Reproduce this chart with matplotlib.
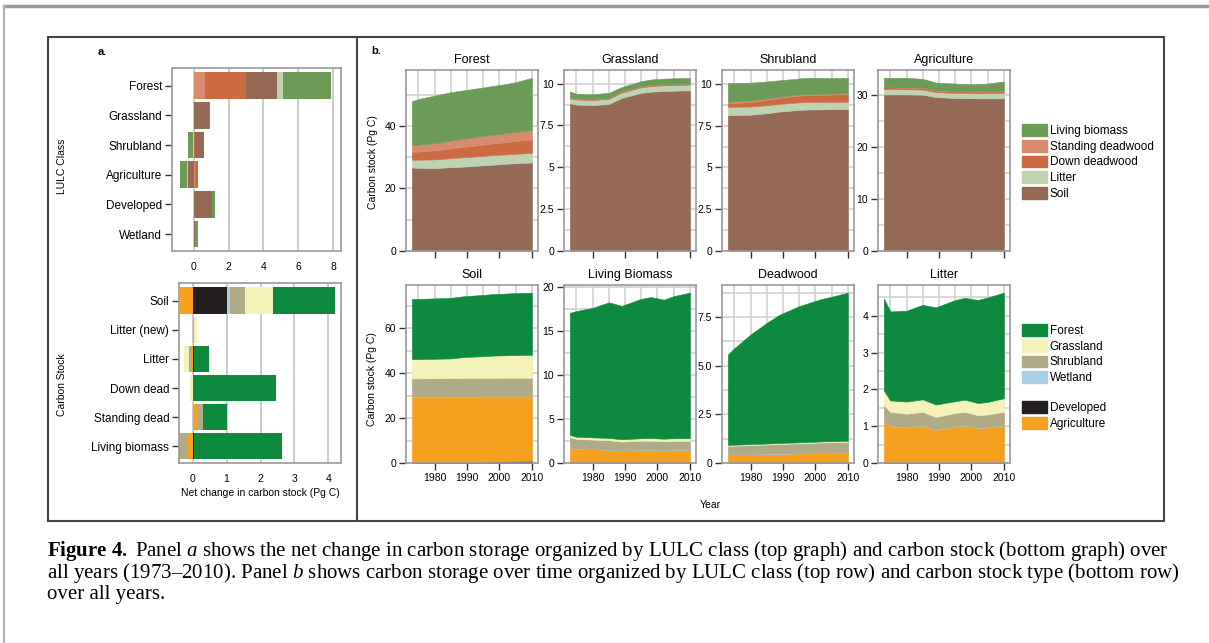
import matplotlib
matplotlib.use("Agg")
import matplotlib.pyplot as plt
from matplotlib.patches import Rectangle, Patch
from matplotlib.lines import Line2D
from matplotlib.ticker import MultipleLocator
import numpy as np

# ---------------- data ----------------
YEARS = [1973, 1975, 1980, 1985, 1989, 1995, 1998, 2002, 2005, 2010]

# panel b, top row: stock type by LULC class (Pg C)
FOREST_SOIL = [26.7, 26.6, 26.5, 26.8, 27.0, 27.4, 27.6, 27.9, 28.1, 28.3]
FOREST_LITTER = [2.5, 2.6, 2.8, 2.9, 3.0, 3.0, 3.1, 3.0, 3.0, 3.1]
FOREST_DOWN = [2.5, 2.6, 2.9, 3.1, 3.3, 3.6, 3.7, 3.9, 4.1, 4.3]
FOREST_STANDING = [2.1, 2.2, 2.3, 2.5, 2.6, 2.8, 2.8, 2.9, 2.9, 3.0]
FOREST_LIVING = [14.1, 14.6, 15.2, 15.5, 15.5, 15.5, 15.6, 15.7, 15.9, 16.7]

GRASS_SOIL = [8.82, 8.75, 8.72, 8.78, 9.15, 9.45, 9.52, 9.56, 9.58, 9.60]
GRASS_LITTER = [0.30, 0.30, 0.30, 0.31, 0.32, 0.33, 0.33, 0.34, 0.34, 0.34]
GRASS_DOWN = [0.04, 0.04, 0.04, 0.04, 0.04, 0.04, 0.04, 0.04, 0.04, 0.04]
GRASS_STANDING = [0.03, 0.03, 0.03, 0.03, 0.03, 0.03, 0.03, 0.03, 0.03, 0.03]
GRASS_LIVING = [0.34, 0.28, 0.28, 0.29, 0.26, 0.30, 0.33, 0.33, 0.33, 0.34]

SHRUB_SOIL = [8.13, 8.14, 8.16, 8.25, 8.35, 8.45, 8.47, 8.48, 8.49, 8.50]
SHRUB_LITTER = [0.51, 0.50, 0.49, 0.48, 0.46, 0.45, 0.45, 0.44, 0.44, 0.44]
SHRUB_DOWN = [0.20, 0.22, 0.27, 0.32, 0.36, 0.40, 0.42, 0.43, 0.44, 0.45]
SHRUB_STANDING = [0.10, 0.10, 0.09, 0.08, 0.07, 0.07, 0.06, 0.06, 0.06, 0.06]
SHRUB_LIVING = [1.12, 1.09, 1.07, 1.02, 0.98, 0.96, 0.97, 0.95, 0.93, 0.92]

AGRI_SOIL = [30.1, 30.1, 30.1, 30.05, 29.6, 29.4, 29.4, 29.35, 29.35, 29.35]
AGRI_LITTER = [1.10, 1.05, 1.00, 1.00, 0.95, 1.00, 1.00, 0.98, 1.00, 1.05]
AGRI_DOWN = [0.30, 0.30, 0.30, 0.30, 0.30, 0.30, 0.30, 0.30, 0.30, 0.30]
AGRI_STANDING = [0.08, 0.08, 0.08, 0.08, 0.08, 0.08, 0.08, 0.08, 0.08, 0.08]
AGRI_LIVING = [1.72, 1.77, 1.82, 1.67, 1.47, 1.42, 1.32, 1.39, 1.47, 1.82]

# panel b, bottom row: LULC class by stock type (Pg C)
SOIL_DEV = [0.2, 0.2, 0.25, 0.3, 0.4, 0.5, 0.6, 0.7, 0.8, 1.0]
SOIL_AGRI = [29.4, 29.4, 29.3, 29.2, 29.1, 28.9, 28.8, 28.7, 28.6, 28.4]
SOIL_WET = [0.1, 0.1, 0.1, 0.1, 0.1, 0.1, 0.1, 0.1, 0.1, 0.1]
SOIL_SHRUB = [8.0, 8.0, 8.1, 8.2, 8.3, 8.4, 8.45, 8.5, 8.5, 8.5]
SOIL_GRASS = [8.6, 8.6, 8.7, 8.8, 9.3, 9.7, 9.9, 10.0, 10.1, 10.2]
SOIL_FOREST = [26.8, 26.8, 26.9, 27.0, 27.1, 27.3, 27.4, 27.5, 27.6, 27.7]

LIVE_DEV = [0.02, 0.02, 0.02, 0.02, 0.02, 0.02, 0.02, 0.02, 0.02, 0.02]
LIVE_AGRI = [1.75, 1.60, 1.55, 1.50, 1.40, 1.50, 1.50, 1.45, 1.50, 1.50]
LIVE_WET = [0.02, 0.02, 0.02, 0.02, 0.02, 0.02, 0.02, 0.02, 0.02, 0.02]
LIVE_SHRUB = [1.15, 1.10, 1.08, 1.05, 1.00, 1.00, 1.00, 0.98, 0.98, 0.97]
LIVE_GRASS = [0.25, 0.25, 0.25, 0.27, 0.27, 0.28, 0.30, 0.30, 0.30, 0.32]
LIVE_FOREST = [13.91, 14.31, 14.75, 15.44, 15.19, 15.88, 16.06, 15.83, 16.18, 16.57]

DEAD_DEV = [0.01, 0.01, 0.01, 0.01, 0.01, 0.01, 0.01, 0.01, 0.01, 0.01]
DEAD_AGRI = [0.43, 0.44, 0.45, 0.46, 0.47, 0.48, 0.49, 0.50, 0.50, 0.51]
DEAD_WET = [0.01, 0.01, 0.01, 0.01, 0.01, 0.01, 0.01, 0.01, 0.01, 0.01]
DEAD_SHRUB = [0.42, 0.43, 0.45, 0.47, 0.49, 0.51, 0.52, 0.54, 0.55, 0.56]
DEAD_GRASS = [0.05, 0.05, 0.05, 0.05, 0.05, 0.05, 0.05, 0.05, 0.05, 0.05]
DEAD_FOREST = [4.65, 4.96, 5.63, 6.20, 6.59, 7.00, 7.14, 7.32, 7.42, 7.61]

LITT_DEV = [0.01, 0.01, 0.01, 0.01, 0.01, 0.01, 0.01, 0.01, 0.01, 0.01]
LITT_AGRI = [1.12, 0.98, 0.96, 1.01, 0.89, 0.98, 1.01, 0.94, 0.96, 1.01]
LITT_WET = [0.01, 0.01, 0.01, 0.01, 0.01, 0.01, 0.01, 0.01, 0.01, 0.01]
LITT_SHRUB = [0.43, 0.39, 0.36, 0.36, 0.34, 0.36, 0.36, 0.34, 0.34, 0.36]
LITT_GRASS = [0.40, 0.31, 0.33, 0.34, 0.34, 0.32, 0.33, 0.33, 0.34, 0.37]
LITT_FOREST = [2.50, 2.42, 2.47, 2.57, 2.64, 2.75, 2.77, 2.80, 2.84, 2.87]

# panel a, top: net change by LULC class
LULC_CLASSES = ["Forest", "Grassland", "Shrubland", "Agriculture", "Developed", "Wetland"]
NET_STANDING = [0.65, 0.0, 0.0, 0.06, 0.0, 0.0]
NET_DOWN = [2.35, 0.0, 0.06, 0.20, 0.0, 0.0]
NET_SOIL = [1.80, 0.88, 0.50, -0.35, 1.05, 0.08]
NET_LITTER = [0.30, -0.05, -0.03, -0.03, 0.0, 0.0]
NET_LIVING = [2.75, 0.07, -0.30, -0.40, 0.15, 0.14]

# panel a, bottom: net change by carbon stock
STOCK_TYPES = ["Soil", "Litter (new)", "Litter", "Down dead", "Standing dead", "Living biomass"]
NET_AGRI = [-0.37, 0.05, -0.05, 0.0, 0.15, -0.14]
NET_DEV = [1.00, 0.0, 0.03, 0.0, 0.0, 0.04]
NET_WET = [0.10, 0.0, 0.0, 0.0, 0.0, 0.0]
NET_SHRUB = [0.45, 0.0, -0.07, 0.0, 0.15, -0.25]
NET_GRASS = [0.83, 0.08, -0.13, -0.08, 0.0, 0.0]
NET_FOREST = [1.80, 0.0, 0.44, 2.46, 0.70, 2.60]

# ---------------- style ----------------
C_SOIL, C_LITTER, C_DOWN, C_STAND, C_LIVING = "#946a54", "#bfd3b3", "#cc6a42", "#d98b6e", "#6c9b58"
C_FOREST, C_GRASS, C_SHRUB, C_WET, C_DEV, C_AGRI = ("#0e8a3f", "#f4f2b6", "#b1aa86",
                                                   "#a8cfe3", "#231f1f", "#f5a11f")

W, H = 1209, 643
plt.rcParams["font.family"] = ["Liberation Sans", "DejaVu Sans"]
plt.rcParams["mathtext.fontset"] = "custom"
plt.rcParams["mathtext.rm"] = "Liberation Serif"
plt.rcParams["mathtext.it"] = "Liberation Serif:italic"
plt.rcParams["mathtext.bf"] = "Liberation Serif:bold"

SPINE = "#9a9a9a"
GRID = "#d2d2d2"


def rect(x0, y0, x1, y1):
    """pixel box (top-left origin) -> figure fraction rect"""
    return [x0 / W, 1 - y1 / H, (x1 - x0) / W, (y1 - y0) / H]


fig = plt.figure(figsize=(W / 100, H / 100), dpi=100)


def style_spines(ax):
    for s in ax.spines.values():
        s.set_color(SPINE)
        s.set_linewidth(1.2)


def bar_panel(box, cats, comps, colors, xlim, xticks):
    ax = fig.add_axes(rect(*box))
    ypos = np.arange(len(cats))[::-1]
    pos = np.zeros(len(cats))
    neg = np.zeros(len(cats))
    for vals, c in zip(comps, colors):
        v = np.array(vals, dtype=float)
        left = np.where(v >= 0, pos, neg)
        ax.barh(ypos, v, left=left, height=0.9, color=c, linewidth=0, zorder=2)
        pos += np.clip(v, 0, None)
        neg += np.clip(v, None, 0)
    ax.set_xlim(*xlim)
    ax.set_ylim(-0.57, len(cats) - 0.4)
    ax.set_xticks(xticks)
    ax.set_yticks(ypos)
    ax.set_yticklabels(cats, fontsize=8.5)
    ax.tick_params(axis="y", direction="out", length=5, width=1, color="#333", pad=2)
    ax.tick_params(axis="x", length=0, pad=8, labelsize=7.5)
    ax.grid(axis="x", color="#c4c4c4", linewidth=1.2, zorder=0)
    ax.set_axisbelow(True)
    style_spines(ax)
    return ax


def area_panel(box, title, layers, colors, ticks, ticklabels, bottom_row):
    ax = fig.add_axes(rect(*box))
    polys = ax.stackplot(YEARS, *layers, colors=colors, zorder=2)
    for p, c in zip(polys, colors):
        p.set_edgecolor(c)
        p.set_linewidth(0.4)
    total = np.sum(layers, axis=0)
    ax.set_xlim(1971.2, 2011.9)
    ax.set_ylim(0, total.max() * 1.045)
    ax.set_xticks([1980, 1990, 2000, 2010])
    ax.xaxis.set_minor_locator(MultipleLocator(5))
    ax.set_yticks(ticks)
    ax.set_yticklabels(ticklabels)
    ax.yaxis.set_minor_locator(MultipleLocator((ticks[1] - ticks[0]) / 2))
    ax.grid(which="both", color=GRID, linewidth=1.2, zorder=0)
    ax.set_axisbelow(True)
    ax.tick_params(which="major", direction="out", length=5, width=1, color="#333",
                   labelsize=7.5, pad=2)
    ax.tick_params(which="minor", length=0)
    if not bottom_row:
        ax.set_xticklabels([])
    ax.set_title(title, fontsize=9, pad=5)
    style_spines(ax)
    return ax


# ---------------- panel a ----------------
bar_panel((172, 68, 341, 251), LULC_CLASSES,
          [NET_STANDING, NET_DOWN, NET_SOIL, NET_LITTER, NET_LIVING],
          [C_STAND, C_DOWN, C_SOIL, C_LITTER, C_LIVING],
          (-1.25, 8.45), [0, 2, 4, 6, 8])
axb = bar_panel((179, 283, 341, 463), STOCK_TYPES,
                [NET_AGRI, NET_DEV, NET_WET, NET_SHRUB, NET_GRASS, NET_FOREST],
                [C_AGRI, C_DEV, C_WET, C_SHRUB, C_GRASS, C_FOREST],
                (-0.4, 4.37), [0, 1, 2, 3, 4])
axb.set_xlabel("Net change in carbon stock (Pg C)", fontsize=7.5, labelpad=3)

fig.text(62 / W, 1 - 166 / H, "LULC Class", rotation=90, ha="center", va="center", fontsize=7.5)
fig.text(62 / W, 1 - 385 / H, "Carbon Stock", rotation=90, ha="center", va="center", fontsize=7.5)

# ---------------- panel b ----------------
top_cols = [C_SOIL, C_LITTER, C_DOWN, C_STAND, C_LIVING]
bot_cols = [C_DEV, C_AGRI, C_WET, C_SHRUB, C_GRASS, C_FOREST]
XS = [406, 564, 722, 878]
PW = 132

area_panel((XS[0], 70, XS[0] + PW, 251), "Forest",
           [FOREST_SOIL, FOREST_LITTER, FOREST_DOWN, FOREST_STANDING, FOREST_LIVING],
           top_cols, [0, 20, 40], ["0", "20", "40"], False)
area_panel((XS[1], 70, XS[1] + PW, 251), "Grassland",
           [GRASS_SOIL, GRASS_LITTER, GRASS_DOWN, GRASS_STANDING, GRASS_LIVING],
           top_cols, [0, 2.5, 5, 7.5, 10], ["0", "2.5", "5", "7.5", "10"], False)
area_panel((XS[2], 70, XS[2] + PW, 251), "Shrubland",
           [SHRUB_SOIL, SHRUB_LITTER, SHRUB_DOWN, SHRUB_STANDING, SHRUB_LIVING],
           top_cols, [0, 2.5, 5, 7.5, 10], ["0", "2.5", "5", "7.5", "10"], False)
area_panel((XS[3], 70, XS[3] + PW, 251), "Agriculture",
           [AGRI_SOIL, AGRI_LITTER, AGRI_DOWN, AGRI_STANDING, AGRI_LIVING],
           top_cols, [0, 10, 20, 30], ["0", "10", "20", "30"], False)

area_panel((XS[0], 285, XS[0] + PW, 463), "Soil",
           [SOIL_DEV, SOIL_AGRI, SOIL_WET, SOIL_SHRUB, SOIL_GRASS, SOIL_FOREST],
           bot_cols, [0, 20, 40, 60], ["0", "20", "40", "60"], True)
area_panel((XS[1], 285, XS[1] + PW, 463), "Living Biomass",
           [LIVE_DEV, LIVE_AGRI, LIVE_WET, LIVE_SHRUB, LIVE_GRASS, LIVE_FOREST],
           bot_cols, [0, 5, 10, 15, 20], ["0", "5", "10", "15", "20"], True)
area_panel((XS[2], 285, XS[2] + PW, 463), "Deadwood",
           [DEAD_DEV, DEAD_AGRI, DEAD_WET, DEAD_SHRUB, DEAD_GRASS, DEAD_FOREST],
           bot_cols, [0, 2.5, 5, 7.5], ["0", "2.5", "5.0", "7.5"], True)
area_panel((XS[3], 285, XS[3] + PW, 463), "Litter",
           [LITT_DEV, LITT_AGRI, LITT_WET, LITT_SHRUB, LITT_GRASS, LITT_FOREST],
           bot_cols, [0, 1, 2, 3, 4], ["0", "1", "2", "3", "4"], True)

fig.text(373 / W, 1 - 162 / H, "Carbon stock (Pg C)", rotation=90, ha="center", va="center", fontsize=7.5)
fig.text(372 / W, 1 - 379 / H, "Carbon stock (Pg C)", rotation=90, ha="center", va="center", fontsize=7.5)
fig.text(710 / W, 1 - 505 / H, "Year", ha="center", va="center", fontsize=7.5)
fig.text(102 / W, 1 - 52 / H, "a.", ha="center", va="center", fontsize=8, fontweight="bold")
fig.text(376 / W, 1 - 51 / H, "b.", ha="center", va="center", fontsize=8, fontweight="bold")

# legends
leg_kw = dict(frameon=False, fontsize=8.5, handlelength=2.1, handleheight=1.15,
              labelspacing=0.25, handletextpad=0.25, borderpad=0, borderaxespad=0,
              loc="upper left")
fig.legend([Patch(color=c) for c in [C_LIVING, C_STAND, C_DOWN, C_LITTER, C_SOIL]],
           ["Living biomass", "Standing deadwood", "Down deadwood", "Litter", "Soil"],
           bbox_to_anchor=(1022 / W, 1 - 124 / H), **leg_kw)
fig.legend([Patch(color=c) for c in [C_FOREST, C_GRASS, C_SHRUB, C_WET]],
           ["Forest", "Grassland", "Shrubland", "Wetland"],
           bbox_to_anchor=(1022 / W, 1 - 324 / H), **leg_kw)
fig.legend([Patch(color=c) for c in [C_DEV, C_AGRI]],
           ["Developed", "Agriculture"],
           bbox_to_anchor=(1022 / W, 1 - 401 / H), **leg_kw)

# page frame and figure box
fig.add_artist(Line2D([4 / W, 1], [1 - 6 / H] * 2, color="#9a9a9a", linewidth=2.5))
fig.add_artist(Line2D([4 / W, 4 / W], [0, 1 - 6 / H], color="#b0b0b0", linewidth=1.5))
fig.add_artist(Rectangle((48 / W, 1 - 521 / H), (1164 - 48) / W, (521 - 37) / H,
                         transform=fig.transFigure, fill=False, edgecolor="#444444",
                         linewidth=1.5))
fig.add_artist(Line2D([357 / W, 357 / W], [1 - 521 / H, 1 - 37 / H], color="#444444",
                      linewidth=1.5))

# caption
cap_kw = dict(fontsize=15, family="Liberation Serif", ha="left", va="center")
fig.text(47 / W, 1 - 551 / H,
         r"$\mathbf{Figure\ 4.}$ Panel $\mathit{a}$ shows the net change in carbon storage organized "
         r"by LULC class (top graph) and carbon stock (bottom graph) over", **cap_kw)
fig.text(47 / W, 1 - 573 / H,
         r"all years (1973–2010). Panel $\mathit{b}$ shows carbon storage over time organized by "
         r"LULC class (top row) and carbon stock type (bottom row)", **cap_kw)
fig.text(47 / W, 1 - 595 / H, "over all years.", **cap_kw)

fig.savefig("out.png", dpi=100)
